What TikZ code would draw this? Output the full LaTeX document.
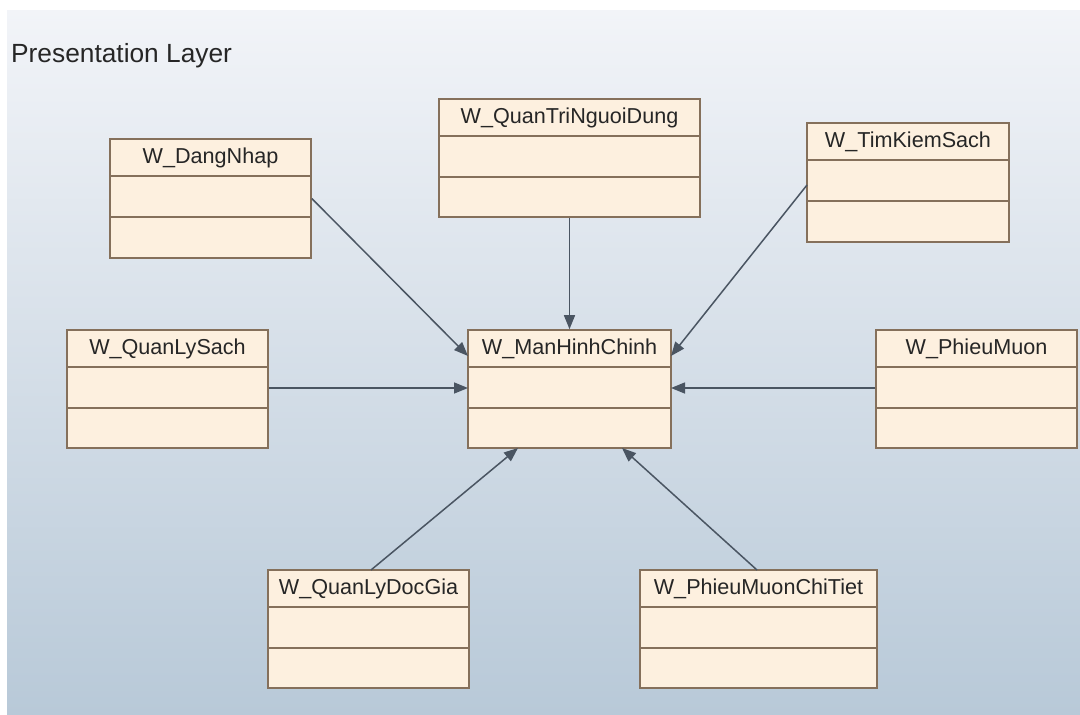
\documentclass[tikz,border=0pt]{standalone}
\usepackage{fontspec}
\setmainfont{Liberation Sans}
\usetikzlibrary{arrows.meta,fit,calc}
\definecolor{bgTop}{HTML}{F2F4F8}
\definecolor{bgMid}{HTML}{DBE3EC}
\definecolor{bgBot}{HTML}{B8C9D8}
\definecolor{boxFill}{HTML}{FDF0DF}
\definecolor{boxLine}{HTML}{85705B}
\definecolor{arrowCol}{HTML}{4A5562}
\definecolor{txtCol}{HTML}{262626}
\tikzset{
  clsbox/.style={draw=boxLine, fill=boxFill, line width=1.6pt, inner sep=0pt, rectangle},
  divl/.style={draw=boxLine, line width=1.6pt},
  clstitle/.style={text=txtCol, inner sep=0pt, font=\fontsize{21.6}{25}\selectfont},
  dep/.style={draw=arrowCol, line width=1.5pt, -{Triangle[length=14pt,width=11pt]}},
}
\newcommand{\umlcls}[6]{%
  \node[clsbox, fit={(#2,#3) (#4,#5)}] (#1) {};
  \draw[divl] ([yshift=-38pt]#1.north west) -- ([yshift=-38pt]#1.north east);
  \draw[divl] ([yshift=-78.5pt]#1.north west) -- ([yshift=-78.5pt]#1.north east);
  \node[clstitle, anchor=base] (#1t) at ([yshift=-25pt]#1.north) {#6};
}
\begin{document}
\begin{tikzpicture}[x=1pt,y=-1pt]
\useasboundingbox (0,0) rectangle (1080,715);
\fill[white] (0,0) rectangle (1080,715);
\shade[top color=bgTop, middle color=bgMid, bottom color=bgBot] (7,10) rectangle (1080,715);
\node[anchor=base west, inner sep=0pt, text=txtCol, font=\fontsize{26.3}{30}\selectfont] (title) at (11,62) {Presentation Layer};

\umlcls{dang}{110}{139}{311}{258}{W\_DangNhap}
\umlcls{qtri}{439}{99}{700}{217}{W\_QuanTriNguoiDung}
\umlcls{tkiem}{807}{123}{1009}{242}{W\_TimKiemSach}
\umlcls{qls}{67}{330}{268}{448}{W\_QuanLySach}
\umlcls{main}{468}{330}{671}{448}{W\_ManHinhChinh}
\umlcls{pm}{876}{330}{1077}{448}{W\_PhieuMuon}
\umlcls{qldg}{268}{570}{469}{688}{W\_QuanLyDocGia}
\umlcls{pmct}{640}{570}{877}{688}{W\_PhieuMuonChiTiet}

\coordinate (inNW) at (468,356);
\coordinate (inNE) at (671,356);
\coordinate (inW) at (468,388);
\coordinate (inE) at (671,388);
\coordinate (inSW) at (518,448);
\coordinate (inSE) at (622,448);
\coordinate (outDG) at (371,570);
\coordinate (outCT) at (757,570);
\coordinate (outTK) at (807,185);

\draw[dep] (dang.east) -- (inNW);
\draw[dep] (qtri.south) -- (main.north);
\draw[dep] (outTK) -- (inNE);
\draw[dep] (qls.east |- inW) -- (inW);
\draw[dep] (pm.west |- inE) -- (inE);
\draw[dep] (outDG) -- (inSW);
\draw[dep] (outCT) -- (inSE);
\end{tikzpicture}
\end{document}
